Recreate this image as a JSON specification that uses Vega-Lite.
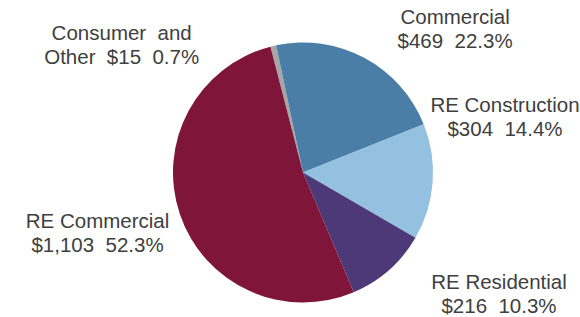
{
  "$schema": "https://vega.github.io/schema/vega-lite/v6.json",
  "width": 554,
  "height": 289,
  "autosize": {"type": "none"},
  "padding": {"left": 26, "top": 28, "right": 0, "bottom": 0},
  "background": "white",
  "config": {"view": {"stroke": null}},
  "data": {
    "values": [
      {"category": "Consumer and Other", "amount": 15, "rank": 1, "label": "Consumer\u00a0 and\nOther\u00a0 $15\u00a0 0.7%"},
      {"category": "Commercial", "amount": 469, "rank": 2, "label": "Commercial\n$469\u00a0 22.3%"},
      {"category": "RE Construction", "amount": 304, "rank": 3, "label": "RE Construction\n$304\u00a0 14.4%"},
      {"category": "RE Residential", "amount": 216, "rank": 4, "label": "RE Residential\n$216\u00a0 10.3%"},
      {"category": "RE Commercial", "amount": 1103, "rank": 5, "label": "RE Commercial\n$1,103\u00a0 52.3%"}
    ]
  },
  "encoding": {
    "theta": {"field": "amount", "type": "quantitative", "stack": true, "scale": {"range": [-0.2531, 6.0301]}},
    "order": {"field": "rank", "type": "quantitative"}
  },
  "layer": [
    {
      "mark": {"type": "arc", "radius": 130},
      "encoding": {
        "color": {
          "field": "category",
          "type": "nominal",
          "scale": {
            "domain": ["Consumer and Other", "Commercial", "RE Construction", "RE Residential", "RE Commercial"],
            "range": ["#a6a6a6", "#4b7ea6", "#93c1df", "#4d3977", "#7f1538"]
          },
          "legend": null
        }
      }
    },
    {
      "mark": {"type": "text", "radius": 150, "dx": -147, "dy": 13.5, "align": "center", "baseline": "alphabetic", "lineBreak": "\n", "font": "Liberation Sans", "fontSize": 20.5, "lineHeight": 24, "fill": "#404040"},
      "encoding": {
        "detail": {"field": "category", "type": "nominal"},
        "text": {"condition": {"test": "datum.rank === 1", "field": "label"}, "value": ""}
      }
    },
    {
      "mark": {"type": "text", "radius": 150, "dx": 81.4, "dy": -16.2, "align": "center", "baseline": "alphabetic", "lineBreak": "\n", "font": "Liberation Sans", "fontSize": 20.5, "lineHeight": 24, "fill": "#404040"},
      "encoding": {
        "detail": {"field": "category", "type": "nominal"},
        "text": {"condition": {"test": "datum.rank === 2", "field": "label"}, "value": ""}
      }
    },
    {
      "mark": {"type": "text", "radius": 150, "dx": 52.4, "dy": -71.5, "align": "center", "baseline": "alphabetic", "lineBreak": "\n", "font": "Liberation Sans", "fontSize": 20.5, "lineHeight": 24, "fill": "#404040"},
      "encoding": {
        "detail": {"field": "category", "type": "nominal"},
        "text": {"condition": {"test": "datum.rank === 3", "field": "label"}, "value": ""}
      }
    },
    {
      "mark": {"type": "text", "radius": 150, "dx": 96.8, "dy": 4, "align": "center", "baseline": "alphabetic", "lineBreak": "\n", "font": "Liberation Sans", "fontSize": 20.5, "lineHeight": 24, "fill": "#404040"},
      "encoding": {
        "detail": {"field": "category", "type": "nominal"},
        "text": {"condition": {"test": "datum.rank === 4", "field": "label"}, "value": ""}
      }
    },
    {
      "mark": {"type": "text", "radius": 150, "dx": -63.4, "dy": 7.4, "align": "center", "baseline": "alphabetic", "lineBreak": "\n", "font": "Liberation Sans", "fontSize": 20.5, "lineHeight": 24, "fill": "#404040"},
      "encoding": {
        "detail": {"field": "category", "type": "nominal"},
        "text": {"condition": {"test": "datum.rank === 5", "field": "label"}, "value": ""}
      }
    }
  ]
}
